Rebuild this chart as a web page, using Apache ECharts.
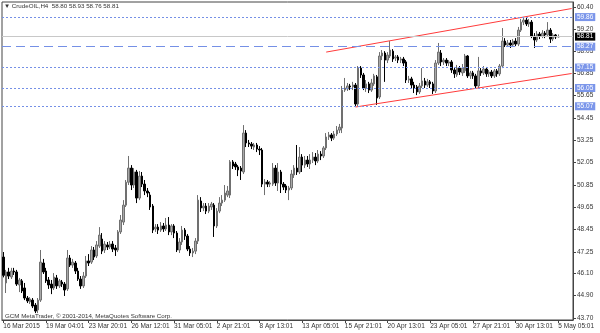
<!DOCTYPE html>
<html><head><meta charset="utf-8">
<script src="https://cdn.jsdelivr.net/npm/echarts@6/dist/echarts.min.js"></script>
<style>html,body{margin:0;padding:0;background:#fff}#c{width:600px;height:333px}</style>
</head><body><div id="c"></div>
<script>
const tickLabels = ['16 Mar 2015','19 Mar 04:01','23 Mar 20:01','26 Mar 12:01','31 Mar 05:01','2 Apr 21:01','8 Apr 13:01','13 Apr 05:01','15 Apr 21:01','20 Apr 13:01','23 Apr 05:01','27 Apr 21:01','30 Apr 13:01','5 May 05:01'];
const yTicks = [60.40,59.20,58.05,56.85,55.65,54.45,53.25,52.05,50.85,49.65,48.45,47.25,46.10,44.90,43.70];
const levels = [59.86,58.27,57.15,56.05,55.07];
const currentPrice = 58.81;
const upperTrend = [[121,57.98],[213,60.32]];
const lowerTrend = [[132,55.03],[213,56.83]];

const opens = [46.97,45.58,46.17,45.90,46.22,46.17,45.47,45.69,45.31,44.77,44.56,44.66,44.39,44.13,44.66,46.65,46.22,45.74,45.52,45.31,
45.85,45.42,45.63,45.52,45.26,46.92,46.54,46.65,46.22,45.79,45.42,45.95,46.76,46.70,47.35,47.03,47.56,47.94,47.35,47.62,
47.51,47.67,47.46,47.35,48.32,48.85,49.76,50.99,51.75,50.84,51.54,50.14,51.32,50.89,50.52,50.30,49.71,48.48,48.58,48.42,
48.64,48.48,48.69,48.32,48.64,48.26,47.35,47.78,48.42,48.10,47.40,47.19,47.29,47.83,49.98,49.61,49.71,49.44,49.66,49.76,
48.64,49.44,49.87,50.03,50.30,50.30,52.08,51.97,51.81,51.75,51.54,53.63,53.10,53.04,52.88,52.99,52.77,52.72,50.89,51.00,
50.89,50.89,51.75,50.95,51.54,50.89,50.79,50.57,50.68,51.38,51.75,51.54,52.34,51.91,52.18,51.97,52.18,52.34,52.13,52.50,
52.40,52.83,53.42,53.53,53.36,53.58,53.79,53.90,55.94,56.00,56.16,56.11,56.21,55.19,57.12,56.75,56.05,56.27,55.94,56.27,
56.65,55.57,57.77,57.93,57.55,57.77,58.03,57.66,57.72,57.55,57.61,57.45,56.48,56.54,56.21,56.11,55.84,56.16,56.43,56.21,
56.38,56.27,55.89,57.39,57.93,57.45,57.55,57.39,57.45,57.02,56.75,57.12,56.86,56.97,57.77,56.70,56.86,56.70,56.16,56.97,
56.86,57.07,56.81,56.91,56.70,56.97,56.81,57.23,58.57,58.36,58.47,58.36,58.57,58.41,59.16,59.59,59.70,59.49,59.59,58.84,
58.63,58.95,58.84,59.00,58.90,59.16,58.68,58.90,58.80];
const highs = [47.24,46.28,46.39,46.39,46.39,46.28,45.85,45.79,45.58,44.88,44.82,44.77,44.50,44.77,47.35,46.87,46.39,45.90,45.74,46.11,
46.01,45.79,45.74,45.63,47.35,47.08,46.87,46.76,46.39,45.95,46.17,47.03,47.13,47.56,47.51,47.83,48.58,48.26,47.83,47.78,
47.83,47.83,47.62,48.42,49.23,50.03,51.11,52.40,51.91,51.75,51.65,51.59,51.54,51.11,50.68,50.46,49.82,48.74,48.74,48.85,
48.80,49.07,49.12,48.74,48.74,48.37,47.99,48.64,48.53,48.21,47.56,47.46,47.99,50.30,50.19,49.87,49.87,49.87,49.93,49.87,
49.60,50.19,50.30,50.84,50.79,52.18,52.18,52.08,51.91,51.86,54.06,53.79,53.26,53.15,53.10,53.10,52.93,52.83,51.16,51.11,
51.05,52.02,51.91,52.02,51.65,51.00,50.89,50.79,51.65,51.91,52.99,52.88,52.50,52.40,52.40,52.50,52.61,52.56,52.72,52.66,
52.93,53.63,53.69,53.63,53.74,54.01,54.12,56.16,56.59,56.32,56.27,56.38,56.32,57.23,57.23,56.86,56.48,56.38,56.54,56.81,
56.75,57.98,58.09,58.03,57.98,58.57,58.14,57.82,57.82,57.72,57.72,57.55,56.70,56.65,56.38,56.21,56.32,57.12,56.59,56.54,
56.48,56.38,57.55,58.47,58.09,57.66,57.66,57.55,57.55,57.18,57.29,57.23,57.34,57.88,57.82,56.97,56.97,56.81,57.72,57.12,
57.23,57.18,57.02,57.02,57.07,57.07,57.34,59.27,58.73,58.63,58.63,58.68,58.73,59.33,59.76,59.86,59.86,59.76,59.70,59.00,
59.11,59.06,59.16,59.11,59.59,59.27,59.00,58.95,58.93];
const lows = [45.88,45.04,45.79,45.79,46.01,45.42,45.09,45.04,44.66,44.50,44.45,44.23,43.96,43.96,44.56,46.06,45.58,45.26,44.98,45.20,
45.26,45.31,45.36,44.88,45.15,46.44,46.39,46.06,45.69,45.26,45.31,45.85,46.49,46.60,46.81,46.92,47.46,47.13,47.19,47.35,
47.40,47.24,47.03,47.24,48.21,48.69,49.66,50.84,50.57,50.68,49.87,50.03,50.73,50.30,50.19,49.50,48.26,48.32,48.21,48.32,
48.32,48.37,48.15,48.15,47.99,47.24,47.19,47.62,47.89,47.29,47.03,46.97,47.13,47.67,49.39,49.44,49.28,49.33,49.50,48.05,
48.53,49.33,49.71,49.93,50.19,50.14,51.70,51.65,51.32,51.11,51.43,52.88,52.88,52.77,52.72,52.61,52.45,50.73,50.30,50.73,
50.73,50.79,50.79,50.52,50.41,50.57,50.41,50.03,50.57,51.22,51.38,51.43,51.54,51.75,51.81,51.70,52.02,51.91,52.02,52.18,
52.29,52.72,53.26,53.20,53.26,53.47,53.63,53.63,55.84,55.89,55.94,55.94,55.03,55.08,56.59,55.94,55.84,55.78,55.84,56.16,
55.14,55.46,57.55,56.38,57.39,57.66,57.45,57.50,57.39,57.39,57.23,56.32,56.32,56.05,55.78,55.67,55.73,56.05,56.05,56.11,
56.05,55.73,55.78,57.29,57.23,57.29,57.23,57.23,56.86,56.59,56.65,56.75,56.70,56.86,56.59,56.54,56.54,56.00,56.05,56.70,
56.75,56.65,56.65,56.59,56.59,56.65,56.70,57.12,58.25,58.25,58.20,58.25,58.30,58.30,59.06,59.43,59.38,59.33,58.73,58.20,
58.52,58.68,58.73,58.73,58.79,58.47,58.57,58.68,58.76];
const closes = [45.99,46.17,45.95,46.22,46.17,45.52,45.74,45.15,44.77,44.61,44.72,44.34,44.07,44.66,46.70,46.17,45.69,45.47,45.31,45.90,
45.42,45.69,45.52,45.20,46.92,46.54,46.70,46.22,45.79,45.42,45.95,46.76,46.65,47.35,46.97,47.62,48.15,47.29,47.67,47.51,
47.67,47.40,47.35,48.32,48.96,49.76,50.99,51.75,50.84,51.54,50.14,51.32,50.89,50.52,50.41,49.66,48.42,48.58,48.42,48.64,
48.48,48.69,48.32,48.64,48.26,47.35,47.78,48.42,48.10,47.40,47.19,47.29,47.83,50.03,49.61,49.71,49.44,49.71,49.82,48.64,
49.44,49.87,50.03,50.41,50.52,52.08,51.86,51.81,51.65,51.59,53.63,53.10,53.04,52.93,52.99,52.77,52.72,50.89,51.00,50.89,
50.95,51.75,50.95,51.54,50.89,50.73,50.57,50.68,51.43,51.75,51.54,52.34,51.91,52.18,51.97,52.18,52.34,52.13,52.50,52.40,
52.83,53.42,53.53,53.36,53.58,53.79,53.95,55.94,56.05,56.16,56.11,56.21,55.19,57.12,56.75,56.05,56.27,55.94,56.32,56.70,
55.51,57.77,57.93,57.55,57.82,58.09,57.61,57.72,57.55,57.61,57.39,56.48,56.54,56.21,56.05,55.84,56.16,56.43,56.21,56.38,
56.27,55.89,57.39,57.98,57.45,57.55,57.39,57.45,57.02,56.81,57.12,56.91,57.12,57.77,56.70,56.86,56.70,56.16,56.97,56.86,
57.07,56.81,56.91,56.70,56.97,56.81,57.23,58.57,58.36,58.47,58.36,58.57,58.41,59.16,59.59,59.70,59.49,59.59,58.84,58.63,
58.95,58.84,59.00,58.90,59.16,58.68,58.90,58.79,58.81];

const NSLOTS = 214;
const categories = [];
for (let i = 0; i < NSLOTS; i++) categories.push(i % 16 === 0 && tickLabels[i / 16] ? tickLabels[i / 16] : '');
const candles = opens.map((o, i) => [o, closes[i], lows[i], highs[i]]);
const last = opens.length - 1;
const titleText = '\u25BC CrudeOIL,H4  ' + [opens[last], highs[last], lows[last], closes[last]].map(v => v.toFixed(2)).join(' ');

const FONT = 'Liberation Sans, DejaVu Sans, sans-serif';
const BLUE = '#7590e6';
function levelLine(v, type) {
  return {
    yAxis: v,
    lineStyle: {color: BLUE, width: 1, type: type},
    label: {show: true, position: 'end', formatter: v.toFixed(2), backgroundColor: '#7b96ea', color: '#ffffff',
      fontSize: 6.5, fontFamily: FONT, padding: [1, 2, 0, 2], distance: 2}
  };
}
const mlData = levels.map(v => levelLine(v, v === 58.27 ? [9, 5] : [2, 2]));
mlData.push({
  yAxis: currentPrice,
  lineStyle: {color: '#c8c8c8', width: 1, type: 'solid'},
  label: {show: true, position: 'end', formatter: currentPrice.toFixed(2), backgroundColor: '#000', color: '#fff',
    fontSize: 6.5, fontFamily: FONT, padding: [1, 2, 0, 2], distance: 2}
});

const chart = echarts.init(document.getElementById('c'), null, {renderer: 'canvas'});
chart.setOption({
  animation: false,
  backgroundColor: '#ffffff',
  grid: {left: 2, right: 27, top: 2, bottom: 13, show: true, borderColor: '#444', borderWidth: 1},
  xAxis: {
    type: 'category', data: categories, boundaryGap: true,
    axisLine: {show: true, lineStyle: {color: '#444'}},
    axisTick: {show: true, alignWithLabel: true, interval: 15, length: 3, lineStyle: {color: '#444'}},
    axisLabel: {interval: 15, align: 'left', margin: 3, fontSize: 6.5, color: '#333', fontFamily: FONT},
    splitLine: {show: false}
  },
  yAxis: {
    type: 'value', position: 'right', min: 43.59, max: 60.67,
    axisLine: {show: true, lineStyle: {color: '#444'}},
    axisTick: {show: true, length: 3, customValues: yTicks, lineStyle: {color: '#444'}},
    axisLabel: {customValues: yTicks, formatter: v => v.toFixed(2), fontSize: 6.5, margin: 4, color: '#333', fontFamily: FONT},
    splitLine: {show: false}
  },
  graphic: [
    {type: 'text', left: 4, top: 3, style: {text: titleText, fontSize: 6.2, fontFamily: FONT, fill: '#333'}},
    {type: 'text', left: 5, top: 313, style: {text: 'GCM MetaTrader, \u00A9 2001-2014, MetaQuotes Software Corp.', fontSize: 6.2, fontFamily: FONT, fill: '#333'}}
  ],
  series: [
    {
      type: 'candlestick', data: candles, barWidth: 2,
      itemStyle: {color: '#a8a8a8', color0: '#000000', borderColor: '#707070', borderColor0: '#000000', borderWidth: 1},
      markLine: {silent: true, symbol: 'none', animation: false, data: mlData}
    },
    {type: 'line', data: upperTrend, symbol: 'none', lineStyle: {color: '#ff3b3b', width: 1}, silent: true},
    {type: 'line', data: lowerTrend, symbol: 'none', lineStyle: {color: '#ff3b3b', width: 1}, silent: true}
  ]
});
</script></body></html>
